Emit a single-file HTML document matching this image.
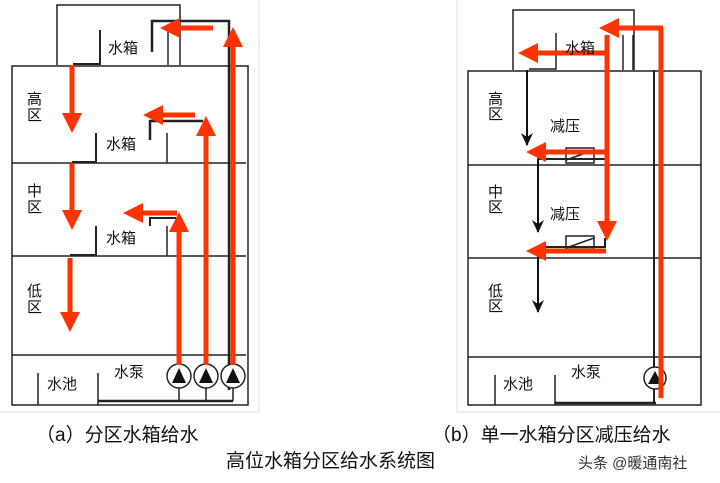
<!DOCTYPE html>
<html><head><meta charset="utf-8"><style>
html,body{margin:0;padding:0;background:#fff;width:720px;height:483px;overflow:hidden}
svg{display:block}
text{font-family:"Liberation Sans","Noto Sans CJK SC",sans-serif;fill:#111}
</style></head><body>
<svg width="720" height="483" viewBox="0 0 720 483" xmlns="http://www.w3.org/2000/svg">
<defs>
<marker id="rh" markerWidth="4" markerHeight="4" refX="1" refY="2" orient="auto" markerUnits="strokeWidth">
<path d="M0,0 L4,2 L0,4 Z" fill="#ff3300"/></marker>
<marker id="bh" markerWidth="14" markerHeight="12" refX="12" refY="6" orient="auto" markerUnits="userSpaceOnUse">
<path d="M0,0 L13,6 L0,12 L4,6 Z" fill="#111"/></marker>
</defs>
<path d="M259,0 V412 H0" stroke="#ddd" fill="none"/>
<path d="M457,0 V412 H720" stroke="#ddd" fill="none"/>

<!-- LEFT PANEL -->
<g stroke="#222" stroke-width="1.5" fill="none">
<path d="M57,65 V5 H180 V65"/>
<rect x="12" y="66" width="236" height="339"/>
<line x1="12" y1="163" x2="246" y2="163"/>
<line x1="12" y1="256" x2="246" y2="256"/>
<line x1="12" y1="355" x2="246" y2="355"/>
<path d="M100,30 V64 H73" stroke-width="2"/>
<line x1="168" y1="30" x2="168" y2="65"/>
<path d="M96,133 V162 H72" stroke-width="2"/>
<line x1="167" y1="133" x2="167" y2="163"/>
<path d="M96,226 V255 H70" stroke-width="2"/>
<line x1="167" y1="226" x2="167" y2="256"/>
<line x1="38" y1="373" x2="38" y2="405"/>
<line x1="98" y1="373" x2="98" y2="405"/>
<path d="M98,401 H233" stroke-width="2.5"/>
<path d="M152,52 V21 H229 V390" stroke-width="2.5"/>
<path d="M150,140 V121 H203" stroke-width="2.5"/>
<path d="M150,226 V218 H176" stroke-width="2"/>
<path d="M179,388 V401 M206,388 V401 M233,388 V401"/>
<circle cx="179" cy="376" r="12" fill="#fff"/>
<circle cx="206" cy="376" r="12" fill="#fff"/>
<circle cx="233" cy="376" r="12" fill="#fff"/>
</g>
<g fill="#111"><path d="M172,383 L179,368 L186,383Z"/><path d="M199,383 L206,368 L213,383Z"/><path d="M226,383 L233,368 L240,383Z"/></g>
<g stroke="#ff3300" stroke-width="5" fill="none">
<line x1="213" y1="28" x2="175" y2="28" marker-end="url(#rh)"/>
<line x1="233" y1="365" x2="233" y2="42" marker-end="url(#rh)"/>
<line x1="72" y1="65" x2="72" y2="118" marker-end="url(#rh)"/>
<line x1="195" y1="115" x2="158" y2="115" marker-end="url(#rh)"/>
<line x1="206" y1="365" x2="206" y2="131" marker-end="url(#rh)"/>
<line x1="72" y1="163" x2="72" y2="215" marker-end="url(#rh)"/>
<line x1="177" y1="213" x2="138" y2="213" marker-end="url(#rh)"/>
<line x1="179" y1="365" x2="179" y2="227" marker-end="url(#rh)"/>
<line x1="70" y1="258" x2="70" y2="317" marker-end="url(#rh)"/>
</g>
<g font-size="15">
<text x="108" y="53">水箱</text><text x="106" y="149">水箱</text><text x="106" y="243">水箱</text>
<text x="27" y="104">高</text><text x="27" y="120">区</text>
<text x="27" y="196">中</text><text x="27" y="212">区</text>
<text x="27" y="296">低</text><text x="27" y="312">区</text>
<text x="47" y="389">水池</text><text x="114" y="377">水泵</text>
</g>

<!-- RIGHT PANEL -->
<g stroke="#222" stroke-width="1.5" fill="none">
<path d="M513,70 V10 H634 V70"/>
<rect x="468" y="71" width="233" height="334"/>
<line x1="468" y1="165" x2="701" y2="165"/>
<line x1="468" y1="258" x2="701" y2="258"/>
<line x1="468" y1="357" x2="701" y2="357"/>
<path d="M556,33 V69 H529"/>
<line x1="623" y1="35" x2="623" y2="70"/>
<line x1="633" y1="35" x2="633" y2="70"/>
<line x1="495" y1="375" x2="495" y2="405"/>
<line x1="555" y1="375" x2="555" y2="405"/>
<path d="M555,403 H656" stroke-width="2.5"/>
<path d="M654,70 V403" stroke-width="2"/>
<rect x="566" y="148" width="28" height="15"/>
<line x1="566" y1="160" x2="594" y2="150"/>
<rect x="566" y="236" width="28" height="13"/>
<line x1="566" y1="248" x2="594" y2="238"/>
<path d="M537,159 H607" stroke-width="2"/>
<path d="M537,247 H605 V238" stroke-width="2"/>
<circle cx="655" cy="378" r="11" fill="#fff"/>
</g>
<path d="M648,384 L655,371 L662,384Z" fill="#111"/>
<g stroke="#111" stroke-width="2">
<line x1="527" y1="70" x2="527" y2="145" marker-end="url(#bh)"/>
<line x1="538" y1="160" x2="538" y2="232" marker-end="url(#bh)"/>
<line x1="538" y1="248" x2="538" y2="312" marker-end="url(#bh)"/>
</g>
<g stroke="#ff3300" stroke-width="5" fill="none">
<line x1="661" y1="398" x2="661" y2="28"/>
<line x1="663" y1="28" x2="614" y2="28" marker-end="url(#rh)"/>
<line x1="607" y1="35" x2="607" y2="226" marker-end="url(#rh)"/>
<line x1="607" y1="53" x2="533" y2="53" marker-end="url(#rh)"/>
<line x1="607" y1="152" x2="541" y2="152" marker-end="url(#rh)"/>
<line x1="606" y1="251" x2="541" y2="251" marker-end="url(#rh)"/>
</g>
<g font-size="15">
<text x="565" y="53">水箱</text>
<text x="550" y="131">减压</text><text x="550" y="219">减压</text>
<text x="488" y="104">高</text><text x="488" y="119">区</text>
<text x="488" y="197">中</text><text x="488" y="212">区</text>
<text x="488" y="296">低</text><text x="488" y="311">区</text>
<text x="503" y="389">水池</text><text x="571" y="377">水泵</text>
</g>

<g font-size="19">
<text x="36" y="441">（a）分区水箱给水</text>
<text x="432" y="441">（b）单一水箱分区减压给水</text>
<text x="226" y="467">高位水箱分区给水系统图</text>
</g>
<text x="578" y="468" font-size="15" style="fill:#333">头条 @暖通南社</text>
</svg>
</body></html>
